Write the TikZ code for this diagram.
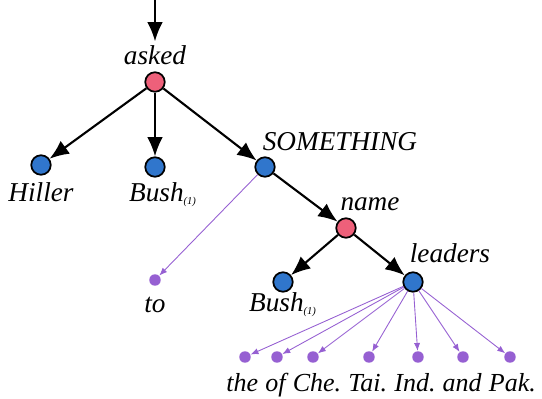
\documentclass[tikz,border=0pt]{standalone}
\usepackage{fontspec}
\setmainfont{Liberation Serif}[ItalicFont={Liberation Serif Italic}]
\usetikzlibrary{arrows.meta, positioning}
\definecolor{headred}{RGB}{238,96,122}
\definecolor{argblue}{RGB}{48,118,204}
\definecolor{leafpurple}{RGB}{150,96,210}
\tikzset{
  head/.style={circle, draw=black, line width=1pt, fill=headred, minimum size=0.39cm, inner sep=0pt},
  arg/.style={circle, draw=black, line width=1pt, fill=argblue, minimum size=0.39cm, inner sep=0pt},
  leaf/.style={circle, fill=leafpurple, minimum size=0.23cm, inner sep=0pt},
  word/.style={font=\fontsize{15.5}{18}\selectfont\itshape, inner sep=0pt, anchor=base},
  leafword/.style={word, font=\fontsize{14.8}{18}\selectfont\itshape},
  dep/.style={-{Latex[length=11pt,width=9pt]}, line width=1.2pt},
  weak/.style={-{Latex[length=4.5pt,width=3.5pt]}, leafpurple, line width=0.5pt}
}
\newcommand{\idx}[1]{\textsubscript{\fontsize{6}{7}\selectfont(#1)}}

\begin{document}
\begin{tikzpicture}[x=0.02cm, y=-0.02cm]
     \useasboundingbox (0,0) rectangle (542,399);
     % tree nodes
     \node[head] (asked) at (155,82) {};
     \node[arg] (hiller) at (41,165) {};
     \node[arg] (bushA) at (155,167) {};
     \node[arg] (something) at (265,167) {};
     \node[head] (name) at (346,228) {};
     \node[leaf] (to) at (155,280) {};
     \node[arg] (bushB) at (283,282) {};
     \node[arg] (leaders) at (413,282) {};
     \node[leaf] (the) at (245,357) {};
     \node[leaf] (of) at (277,357) {};
     \node[leaf] (che) at (313,357) {};
     \node[leaf] (tai) at (369,357) {};
     \node[leaf] (ind) at (418,357) {};
     \node[leaf] (and) at (463,357) {};
     \node[leaf] (pak) at (510,357) {};
     % words
     \node[word] (askedtext) at (155,65) {asked};
     \node[word] (hillertext) at (41,201) {Hiller};
     \node[word] (bushAtext) at (163,201) {Bush\idx{1}};
     \node[word] (somethingtext) at (340,151) {SOMETHING};
     \node[word] (nametext) at (370,211) {name};
     \node[word] (totext) at (155,312) {to};
     \node[word] (bushBtext) at (283,311) {Bush\idx{1}};
     \node[word] (leaderstext) at (450,262) {leaders};
     % leaf words, set as one line
     \node[leafword, anchor=base west] (thetext) at (226,391) {the};
     \node[leafword, base right=3.7pt of thetext] (oftext) {of};
     \node[leafword, base right=3.7pt of oftext] (chetext) {Che.};
     \node[leafword, base right=3.7pt of chetext] (taitext) {Tai.};
     \node[leafword, base right=3.7pt of taitext] (indtext) {Ind.};
     \node[leafword, base right=3.7pt of indtext] (andtext) {and};
     \node[leafword, base right=3.7pt of andtext] (paktext) {Pak.};
     % root arrow
     \coordinate (root) at (155,0);
     \draw[dep, shorten >=2.5pt] (root) -- (askedtext.north);
     % dependencies
     \draw[dep] (asked) -- (hiller);
     \draw[dep] (asked) -- (bushA);
     \draw[dep] (asked) -- (something);
     \draw[dep] (something) -- (name);
     \draw[dep] (name) -- (bushB);
     \draw[dep] (name) -- (leaders);
     \draw[weak] (something) -- (to);
     \foreach \w in {the,of,che,tai,ind,and,pak}
       \draw[weak] (leaders) -- (\w);
   \end{tikzpicture}
\end{document}
